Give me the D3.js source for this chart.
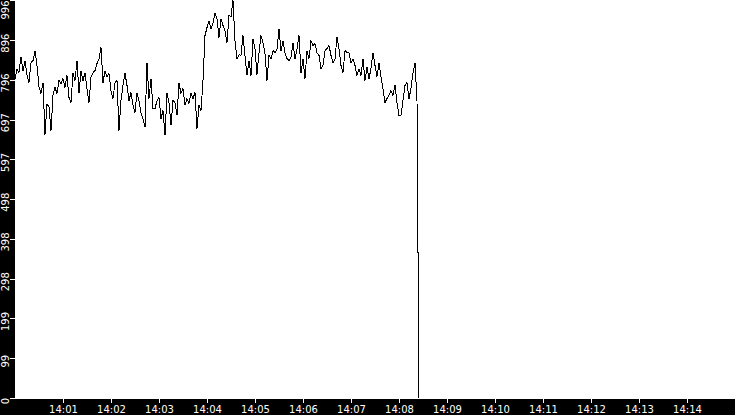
<!DOCTYPE html>
<html>
<head>
<meta charset="utf-8">
<script src="https://cdn.jsdelivr.net/npm/d3@7"></script>
<style>
  body { margin: 0; background: #fff; }
  svg { display: block; }
  .axis text { fill: #fff; font-family: "DejaVu Sans", sans-serif; font-size: 10px; }
  .axis line { stroke: #fff; }
</style>
</head>
<body>
<script>
// sampling: one reading every 2.5 s starting 14:00:00
let startTime = "14:00:00"
let stepSeconds = 2.5

// readings
let values = [
  800, 825, 815, 855, 820, 845, 810, 790, 840, 845, 870, 833, 780, 763, 790, 660,
  735, 730, 670, 758, 778, 763, 795, 788, 800, 778, 808, 753, 740, 815, 795, 845,
  763, 820, 795, 815, 775, 740, 803, 815, 820, 838, 850, 878, 790, 820, 805, 813,
  770, 750, 790, 795, 670, 745, 783, 813, 783, 745, 765, 735, 715, 765, 745, 715,
  700, 678, 840, 750, 800, 725, 725, 745, 753, 700, 720, 658, 765, 738, 683, 745,
  740, 708, 788, 763, 775, 733, 750, 738, 763, 750, 765, 675, 733, 720, 795, 908,
  928, 945, 925, 940, 965, 950, 903, 950, 933, 920, 890, 958, 955, 996, 895, 850,
  860, 858, 908, 858, 808, 845, 808, 900, 875, 810, 865, 908, 890, 863, 795, 858,
  850, 870, 865, 875, 925, 870, 895, 865, 850, 845, 855, 890, 850, 875, 908, 815,
  850, 800, 870, 850, 895, 883, 888, 865, 858, 825, 833, 870, 875, 883, 858, 840,
  850, 905, 875, 833, 815, 870, 865, 865, 840, 850, 833, 808, 825, 808, 850, 795,
  830, 800, 825, 865, 833, 805, 840, 805, 775, 740, 750, 758, 770, 758, 783, 740,
  708, 708, 745, 783, 790, 750, 775, 815, 840, 745, 0
]

// axis labels
let yTickLabels = ["0", "99", "199", "298", "398", "498", "597", "697", "796", "896", "996"]
let xTickLabels = ["14:01", "14:02", "14:03", "14:04", "14:05", "14:06", "14:07",
                   "14:08", "14:09", "14:10", "14:11", "14:12", "14:13", "14:14"]
let xDomainLabels = ["14:00", "14:15"]

let W = 735, H = 415
let margin = {top: 0, right: 0, bottom: 16, left: 15}
let plotBottom = H - margin.bottom - 1   // 398

let parseHM = d3.timeParse("%H:%M")
let parseHMS = d3.timeParse("%H:%M:%S")
let t0 = parseHMS(startTime)

let data = values.map((v, i) => ({
  t: new Date(t0.getTime() + i * stepSeconds * 1000),
  v: v
}))

let x = d3.scaleTime()
    .domain(xDomainLabels.map(parseHM))
    .range([margin.left, W])

let yMax = d3.max(values)
let y = d3.scaleLinear()
    .domain([0, yMax])
    .range([plotBottom, 0.4])

let svg = d3.select("body")
    .append("svg")
    .attr("width", W)
    .attr("height", H)

// black bands for the axes
svg.append("rect")
    .attr("x", 0).attr("y", 0)
    .attr("width", margin.left).attr("height", H)
    .attr("fill", "#000")
svg.append("rect")
    .attr("x", 0).attr("y", plotBottom + 1)
    .attr("width", W).attr("height", H - plotBottom - 1)
    .attr("fill", "#000")

// line
let line = d3.line()
    .x(d => x(d.t))
    .y(d => y(d.v))

svg.append("path")
    .datum(data)
    .attr("d", line)
    .attr("fill", "none")
    .attr("stroke", "#000")
    .attr("stroke-width", 1)
    .attr("shape-rendering", "crispEdges")

// y axis, labels rotated
let yTickValues = yTickLabels.map((l, i) => yMax * i / 10)
let yAxis = d3.axisLeft(y)
    .tickValues(yTickValues)
    .tickFormat((d, i) => yTickLabels[i])
    .tickSize(5)

let gy = svg.append("g")
    .attr("class", "axis")
    .attr("transform", "translate(" + margin.left + ",0)")
    .call(yAxis)
gy.select(".domain").remove()
gy.selectAll(".tick line").attr("shape-rendering", "crispEdges")
gy.selectAll(".tick text")
    .attr("x", null)
    .attr("dy", null)
    .attr("text-anchor", "middle")
    .attr("transform", function(d) {
      let ty = y(d)
      let cy = Math.max(ty + 2.5, 9.5) - ty
      return "rotate(-90) translate(" + (-cy) + "," + (-6.5) + ")"
    })
    .attr("y", 0)

// x axis
let xAxis = d3.axisBottom(x)
    .tickValues(xTickLabels.map(parseHM))
    .tickFormat(d3.timeFormat("%H:%M"))
    .tickSize(4)
    .tickPadding(3)

let gx = svg.append("g")
    .attr("class", "axis")
    .attr("transform", "translate(0," + (plotBottom + 1) + ")")
    .call(xAxis)
gx.select(".domain").remove()
gx.selectAll(".tick line").attr("shape-rendering", "crispEdges")
</script>
</body>
</html>
